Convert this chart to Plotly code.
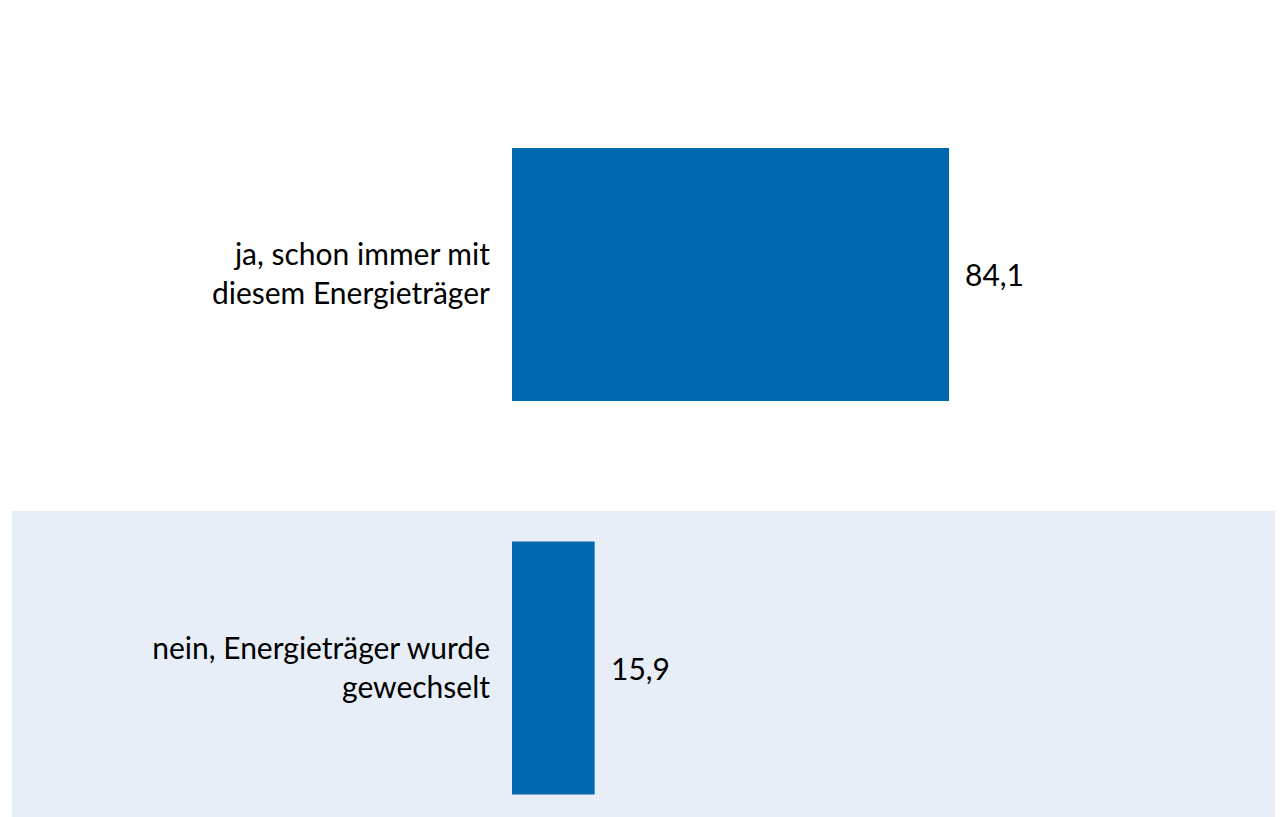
import plotly.graph_objects as go

categories = ["ja, schon immer mit<br>diesem Energieträger", "nein, Energieträger wurde<br>gewechselt"]
values = [84.1, 15.9]
positions = [0, 1]

bar_color = "#0068AF"
band_color = "#E7EEF7"

fig = go.Figure()

fig.add_bar(
    y=positions, x=values, orientation="h",
    marker=dict(color=bar_color, line=dict(width=0)),
    width=0.643,
    hoverinfo="skip",
)

# value labels, German decimal comma
for v, p in zip(values, positions):
    fig.add_annotation(x=v, y=p, xref="x", yref="y",
                       text=f"{v:.1f}".replace(".", ","),
                       showarrow=False, xanchor="left", xshift=14,
                       font=dict(size=30, color="#000000"))

# light band behind second category
fig.add_shape(type="rect", xref="paper", yref="y",
              x0=0, x1=1.01, y0=0.601, y1=1.399,
              fillcolor=band_color, line=dict(width=0), layer="below")

fig.update_layout(
    width=1283, height=817,
    margin=dict(l=4, r=0, t=0, b=0),
    plot_bgcolor="white", paper_bgcolor="white",
    showlegend=False,
    font=dict(family="Lato, Open Sans, sans-serif", size=30, color="#000000"),
    xaxis=dict(domain=[500 / 1279, 1], range=[0, 149.9],
               visible=False, showgrid=False, zeroline=False),
    yaxis=dict(range=[1.399, -0.677], tickvals=positions, ticktext=categories,
               showgrid=False, zeroline=False, showline=False, ticks="",
               ticklabelstandoff=21),
)

fig.write_html("out.html")
